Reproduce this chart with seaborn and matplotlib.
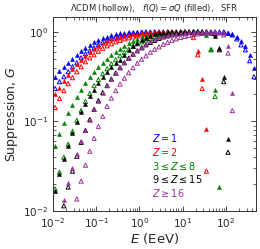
import numpy as np
import pandas as pd
import matplotlib
matplotlib.use("Agg")
import matplotlib.pyplot as plt
import seaborn as sns

nan = np.nan

# Energy grid (EeV)
energy = [0.0112, 0.0141, 0.0178, 0.0224, 0.0282, 0.0355, 0.0447, 0.0562, 0.0708, 0.0891,
          0.112, 0.141, 0.178, 0.224, 0.282, 0.355, 0.447, 0.562, 0.708, 0.891,
          1.12, 1.41, 1.78, 2.24, 2.82, 3.55, 4.47, 5.62, 7.08, 8.91,
          11.2, 14.1, 17.8, 22.4, 28.2, 35.5, 44.7, 56.2, 70.8, 89.1,
          112, 141, 178, 224, 282, 355, 447]

# Z = 1
g_z1_fq = [0.316, 0.369, 0.408, 0.452, 0.501, 0.555, 0.615, 0.664, 0.717, 0.764,
           0.805, 0.847, 0.880, 0.914, 0.938, 0.962, 0.975, 0.987] + [1.0] * 22 + \
          [0.975, 0.950, 0.869, 0.794, 0.699, 0.555, 0.398]
g_z1_lcdm = [0.233, 0.278, 0.316, 0.359, 0.408, 0.452, 0.514, 0.570, 0.615, 0.664,
             0.717, 0.764, 0.805, 0.847, 0.880, 0.903, 0.926, 0.950, 0.962, 0.975,
             0.987] + [1.0] * 19 + [0.962, 0.926, 0.836, 0.717, 0.631, 0.476, 0.316]

# Z = 2
g_z2_fq = [0.200, 0.238, 0.285, 0.333, 0.388, 0.435, 0.489, 0.541, 0.599, 0.647,
           0.699, 0.745, 0.784, 0.825, 0.858, 0.880, 0.903, 0.926, 0.938, 0.950,
           0.962, 0.975, 0.987] + [1.0] * 9 + [0.975, 0.615, 0.301, 0.0815] + [nan] * 11
g_z2_lcdm = [0.143, 0.180, 0.221, 0.264, 0.308, 0.359, 0.408, 0.464, 0.514, 0.555,
             0.607, 0.656, 0.699, 0.736, 0.774, 0.805, 0.836, 0.858, 0.880, 0.903,
             0.926, 0.938, 0.950, 0.962, 0.975, 0.987] + [1.0] * 6 + \
            [0.864, 0.555, 0.233, 0.0278] + [nan] * 11

# 3 <= Z <= 8
g_z3_fq = [0.0527, 0.0717, 0.0950, 0.123, 0.154, 0.187, 0.227, 0.271, 0.316, 0.359,
           0.403, 0.452, 0.501, 0.548, 0.599, 0.647, 0.699, 0.745, 0.794, 0.836,
           0.869, 0.903, 0.926, 0.950, 0.962, 0.975, 0.987] + [1.0] * 8 + \
          [0.926, 0.647, 0.227, 0.0185] + [nan] * 8
g_z3_lcdm = [0.0176, 0.0271, 0.0398, 0.0555, 0.0774, 0.103, 0.132, 0.167, 0.205, 0.251,
             0.293, 0.341, 0.388, 0.441, 0.489, 0.541, 0.592, 0.639, 0.690, 0.736,
             0.774, 0.815, 0.847, 0.880, 0.903, 0.926, 0.950, 0.962, 0.975, 0.987] + \
            [1.0] * 5 + [0.975, 0.631, 0.190] + [nan] * 9

# 9 <= Z <= 15
g_z9_fq = [0.0167, 0.0258, 0.0378, 0.0527, 0.0736, 0.0975, 0.126, 0.156, 0.190, 0.227,
           0.268, 0.312, 0.359, 0.403, 0.447, 0.489, 0.555, 0.631, 0.699, 0.755,
           0.805, 0.858, 0.903, 0.938, 0.962, 0.975, 0.987] + [1.0] * 8 + \
          [0.987, 0.975, 0.910, 0.664, 0.316, 0.0631] + [nan] * 6
g_z9_lcdm = [nan, nan, 0.0114, 0.0185, 0.0278, 0.0408, 0.0584, 0.0794, 0.105, 0.136,
             0.171, 0.210, 0.251, 0.297, 0.346, 0.398, 0.452, 0.508, 0.562, 0.615,
             0.664, 0.717, 0.764, 0.805, 0.847, 0.880, 0.903, 0.926, 0.950, 0.962,
             0.975, 0.987] + [1.0] * 4 + [0.987, 0.950, 0.631, 0.278, 0.0452] + [nan] * 6

# Z >= 16
g_z16_fq = [nan, nan, 0.0133, 0.0205, 0.0304, 0.0430, 0.0599, 0.0805, 0.105, 0.136,
            0.171, 0.210, 0.254, 0.301, 0.350, 0.403, 0.458, 0.514, 0.570, 0.623,
            0.681, 0.736, 0.784, 0.825, 0.869, 0.891, 0.914, 0.938, 0.950, 0.962,
            0.975, 0.987] + [1.0] * 7 + [0.967, 0.687, 0.208] + [nan] * 5
g_z16_lcdm = [nan] * 5 + [0.0136, 0.0215, 0.0324, 0.0464, 0.0647, 0.0880, 0.114, 0.147,
                          0.182, 0.221, 0.261, 0.304, 0.350, 0.398, 0.447, 0.495, 0.541,
                          0.592, 0.639, 0.681, 0.726, 0.764, 0.805, 0.836, 0.869, 0.891,
                          0.914, 0.938, 0.950, 0.962, 0.975, 0.987, 0.987, 0.975, 0.926,
                          0.580, 0.132] + [nan] * 5

labels = [r"$Z = 1$", r"$Z = 2$", r"$3 \leq Z \leq 8$", r"$9 \leq Z \leq 15$", r"$Z \geq 16$"]
colors = ["blue", "red", "green", "black", "#993399"]
series_fq = [g_z1_fq, g_z2_fq, g_z3_fq, g_z9_fq, g_z16_fq]
series_lcdm = [g_z1_lcdm, g_z2_lcdm, g_z3_lcdm, g_z9_lcdm, g_z16_lcdm]

sns.set_style("ticks")
plt.rcParams["font.family"] = ["DejaVu Sans"]
plt.rcParams["mathtext.fontset"] = "dejavusans"

fig = plt.figure(figsize=(2.6, 2.49), dpi=100)
ax = fig.add_axes([0.204, 0.153, 0.781, 0.779])

for lab, col, yf, yl in zip(labels, colors, series_fq, series_lcdm):
    df_l = pd.DataFrame({"E": energy, "G": yl}).dropna()
    df_f = pd.DataFrame({"E": energy, "G": yf}).dropna()
    sns.scatterplot(data=df_l, x="E", y="G", ax=ax, marker="^", s=9,
                    facecolors="none", edgecolor=col, linewidth=0.7, legend=False)
    sns.scatterplot(data=df_f, x="E", y="G", ax=ax, marker="^", s=9,
                    color=col, edgecolor=col, linewidth=0.3, legend=False)

ax.set_xscale("log")
ax.set_yscale("log")
ax.set_xlim(0.01, 500)
ax.set_ylim(0.01, 1.47)

ax.tick_params(which="both", direction="in", top=True, right=True, labelsize=7.5)
ax.tick_params(which="major", length=3.5, width=0.6)
ax.tick_params(which="minor", length=2, width=0.5)
for sp in ax.spines.values():
    sp.set_linewidth(0.7)
    sp.set_color("#333333")

ax.set_xlabel(r"$E$ (EeV)", fontsize=9.5, labelpad=1)
ax.set_ylabel(r"Suppression, $G$", fontsize=9, labelpad=2)
ax.set_title(r"$\Lambda$CDM (hollow),   $f(Q) = \sigma Q$ (filled),   SFR",
             fontsize=6, pad=4)

# colored text legend
for i, (lab, col) in enumerate(zip(labels, colors)):
    ax.text(0.485, 0.375 - i * 0.0705, lab, color=col, fontsize=7,
            transform=ax.transAxes, va="center", ha="left")

fig.savefig("out.png", dpi=100)
